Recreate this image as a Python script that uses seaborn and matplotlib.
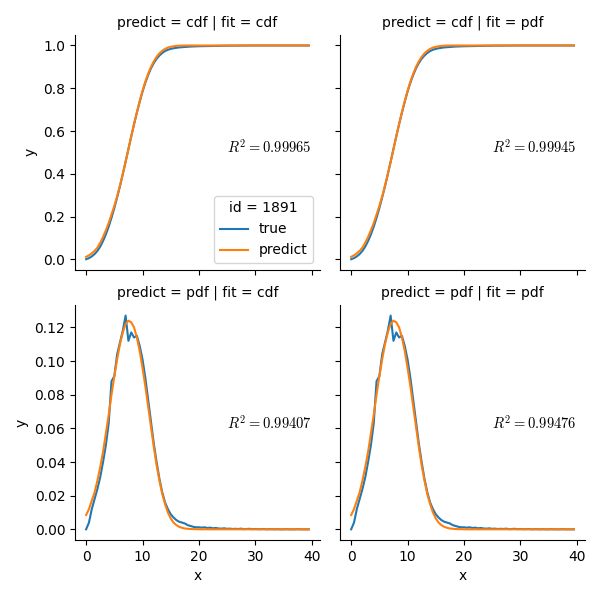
import numpy as np
import pandas as pd
import matplotlib
matplotlib.use('Agg')
import matplotlib.pyplot as plt
import seaborn as sns

plt.rcParams['mathtext.fontset'] = 'cm'

# -------------------------------------------------------
# Data (x in steps of 0.5)
# -------------------------------------------------------
x_vals = [i * 0.5 for i in range(80)]

pdf_true = [
    0.000, 0.004, 0.012, 0.018, 0.024, 0.031, 0.040, 0.050, 0.063, 0.088,
    0.091, 0.104, 0.111, 0.118, 0.127, 0.112, 0.117, 0.114, 0.115, 0.109,
    0.101, 0.090, 0.077, 0.064, 0.051, 0.040, 0.030, 0.022, 0.016, 0.012,
    0.009, 0.007, 0.0055, 0.0045, 0.004, 0.0035, 0.0025, 0.002, 0.0015, 0.0012,
    0.0012, 0.0010, 0.0012, 0.0008, 0.0010, 0.0006, 0.0008, 0.0005, 0.0004, 0.0006,
    0.0003, 0.0004, 0.0002, 0.0003, 0.0002, 0.0004, 0.0001, 0.0002, 0.0003, 0.0001,
    0.0002, 0.0001, 0.0001, 0.0002, 0.0000, 0.0001, 0.0001, 0.0000, 0.0001, 0.0000,
    0.0000, 0.0001, 0.0000, 0.0000, 0.0000, 0.0001, 0.0000, 0.0000, 0.0000, 0.0000,
]

pdf_pred = [
    0.0085, 0.012, 0.017, 0.022, 0.029, 0.037, 0.046, 0.057, 0.068, 0.080,
    0.091, 0.101, 0.110, 0.117, 0.122, 0.124, 0.123, 0.120, 0.114, 0.106,
    0.096, 0.085, 0.073, 0.061, 0.049, 0.038, 0.029, 0.021, 0.015, 0.010,
    0.0065, 0.004, 0.0025, 0.0015, 0.0009, 0.0005, 0.0003, 0.0002, 0.0001, 0.0001,
] + [0.0] * 40

cdf_true = [
    0.001, 0.006, 0.014, 0.025, 0.040, 0.060, 0.086, 0.117, 0.153, 0.195,
    0.240, 0.290, 0.342, 0.398, 0.457, 0.516, 0.575, 0.632, 0.686, 0.737,
    0.784, 0.826, 0.862, 0.893, 0.918, 0.938, 0.953, 0.965, 0.974, 0.980,
    0.984, 0.987, 0.989, 0.991, 0.992, 0.993, 0.994, 0.995, 0.9955, 0.996,
    0.9965, 0.9968, 0.997, 0.9972, 0.9975, 0.9977, 0.998, 0.9982, 0.9985, 0.9987,
    0.999, 0.9991, 0.9992, 0.9993, 0.9994, 0.9995, 0.9996, 0.9997, 0.9998, 0.9999,
] + [1.0] * 20

cdf_pred = [
    0.012, 0.019, 0.028, 0.040, 0.055, 0.078, 0.105, 0.136, 0.170, 0.210,
    0.250, 0.295, 0.345, 0.400, 0.455, 0.515, 0.575, 0.633, 0.688, 0.740,
    0.788, 0.831, 0.868, 0.900, 0.926, 0.947, 0.963, 0.975, 0.984, 0.990,
    0.994, 0.996, 0.998, 0.999, 0.9995, 0.9998,
] + [1.0] * 44

r2 = {('cdf', 'cdf'): 0.99965, ('cdf', 'pdf'): 0.99945,
      ('pdf', 'cdf'): 0.99407, ('pdf', 'pdf'): 0.99476}
r2_pos = {'cdf': 0.5, 'pdf': 0.06}

# -------------------------------------------------------
# Long-format frame
# -------------------------------------------------------
curves = {'cdf': (cdf_true, cdf_pred), 'pdf': (pdf_true, pdf_pred)}
frames = []
for predict, (true_y, pred_y) in curves.items():
    for fit in ['cdf', 'pdf']:
        for name, ys in [('true', true_y), ('predict', pred_y)]:
            frames.append(pd.DataFrame({'x': x_vals, 'y': ys, 'series': name,
                                        'predict': predict, 'fit': fit}))
df = pd.concat(frames, ignore_index=True)

# -------------------------------------------------------
# Plot
# -------------------------------------------------------
g = sns.FacetGrid(df, row='predict', col='fit', hue='series',
                  row_order=['cdf', 'pdf'], col_order=['cdf', 'pdf'],
                  hue_order=['true', 'predict'],
                  height=3, aspect=1, sharex=True, sharey='row')
g.map(plt.plot, 'x', 'y')

for (predict, fit), ax in g.axes_dict.items():
    ax.text(25, r2_pos[predict], r'$R^2 = %.5f$' % r2[(predict, fit)],
            ha='left', fontsize=10.5)

g.axes[0, 0].legend(title='id = 1891', loc='lower right')
g.figure.subplots_adjust(left=0.125, right=0.975, top=0.942, bottom=0.1,
                         wspace=0.082, hspace=0.149)
g.figure.savefig('out.png', dpi=100)
